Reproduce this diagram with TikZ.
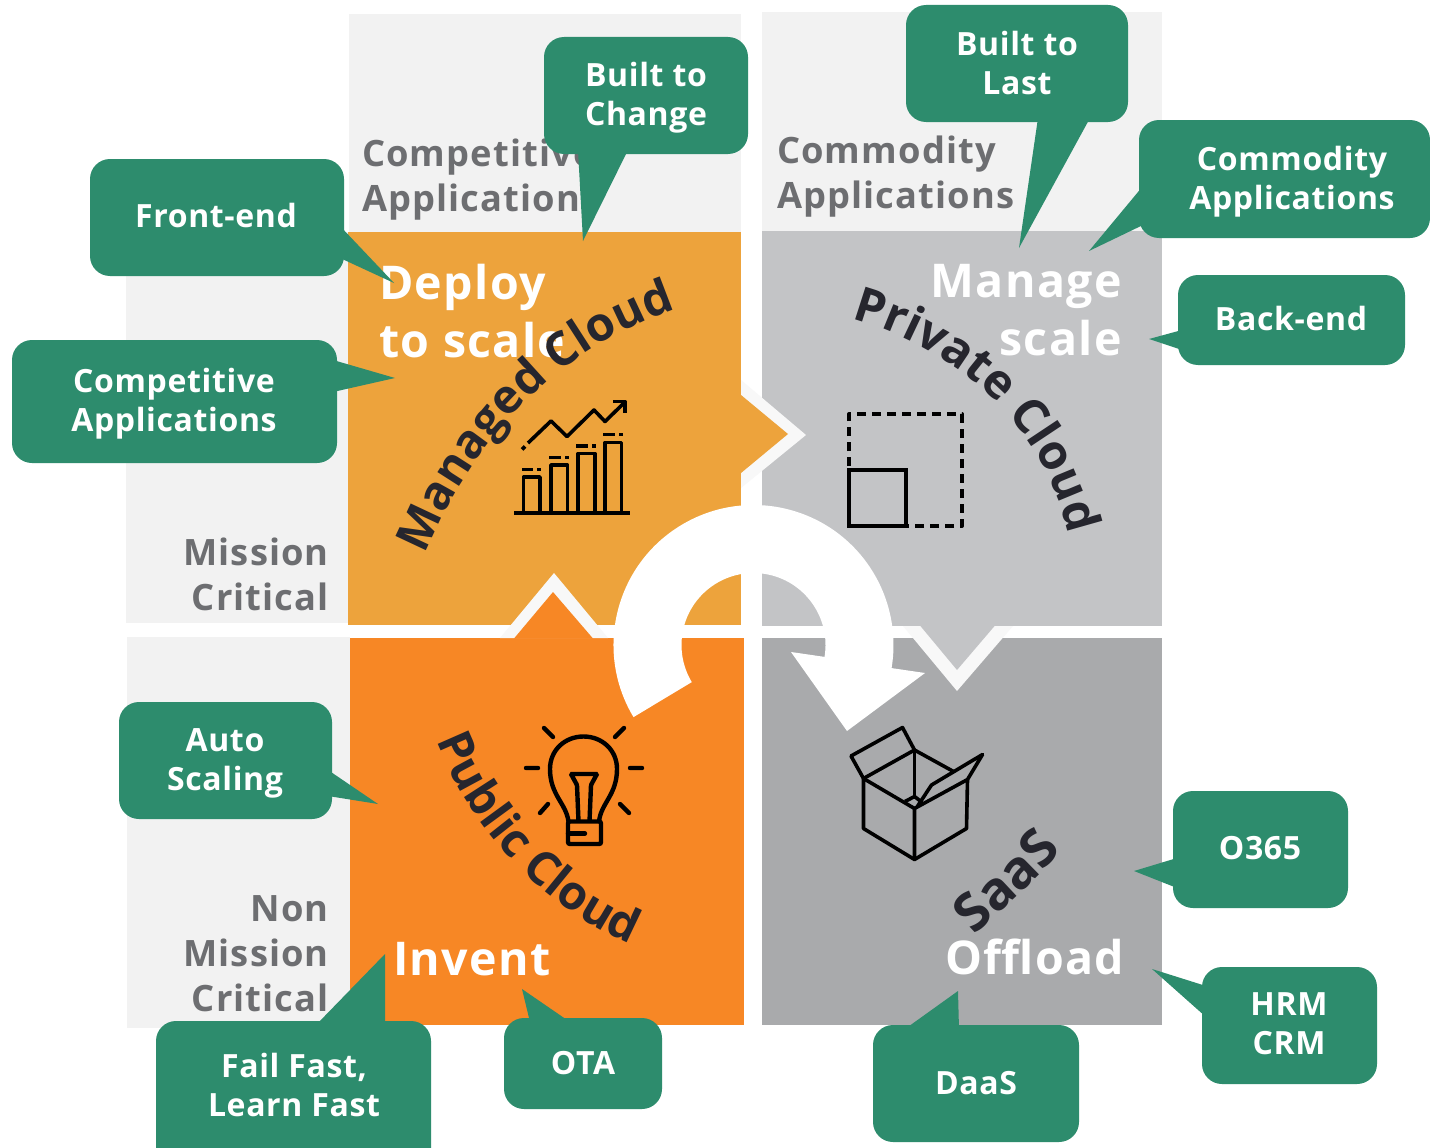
\documentclass[tikz,border=0pt]{standalone}
\usepackage{fontspec}
\setmainfont{Open Sans}
\newfontfamily\callfont[LetterSpace=2]{Open Sans Bold}
\newfontfamily\bigfont[LetterSpace=3]{Open Sans Bold}
\newfontfamily\curvefont{Open Sans Bold}
\usetikzlibrary{decorations.text}
\definecolor{cgreen}{HTML}{2D8C6D}
\definecolor{lightbg}{HTML}{F2F2F2}
\definecolor{qtl}{HTML}{EDA33C}
\definecolor{qtr}{HTML}{C3C4C6}
\definecolor{qbl}{HTML}{F78725}
\definecolor{qbr}{HTML}{A9AAAC}
\definecolor{edge}{HTML}{F8F8F8}
\definecolor{labelgray}{HTML}{6D6E71}
\definecolor{curvecol}{HTML}{26262E}
\tikzset{
  x=1pt,y=-1pt,
  callbox/.style={fill=cgreen,rounded corners=20pt},
  calltext/.style={text=white,font=\callfont\fontsize{32}{39}\selectfont,align=center,inner sep=0pt},
  greylabel/.style={text=labelgray,font=\bigfont\fontsize{36.3}{45}\selectfont,inner sep=0pt},
  bigwhite/.style={text=white,font=\bigfont\fontsize{46.5}{58}\selectfont,inner sep=0pt},
  iconline/.style={draw=black,line width=3.6pt,line join=round},
  curved/.style={decorate,decoration={text along path,text align=center,text format delimiters={|}{|},text color=curvecol}}
}
\newcommand{\callout}[7]{%
  \fill[callbox] (#1,#2) rectangle (#3,#4);
  \fill[cgreen] #5 -- #6 -- #7 -- cycle;
}
\begin{document}
\begin{tikzpicture}
\useasboundingbox (0,0) rectangle (1430,1148);
\fill[white] (0,0) rectangle (1430,1148);
% light backgrounds
\fill[lightbg] (349,14) rectangle (741,232);
\fill[lightbg] (126,232) rectangle (348,623);
\fill[lightbg] (762,12) rectangle (1162,231);
\fill[lightbg] (127,637) rectangle (350,1028);
% quadrants
\fill[qtl] (348,232) rectangle (741,625);
\fill[qtr] (762,231) rectangle (1162,626);
\fill[qbl] (350,638) rectangle (744,1025);
\fill[qbr] (762,638) rectangle (1162,1025);
% flow arrows
\fill[edge] (741,380) -- (806,435) -- (741,488) -- cycle;
\fill[qtl] (741,395) -- (788,434) -- (741,473) -- cycle;
\fill[edge] (500,638) -- (554,573) -- (608,638) -- cycle;
\fill[qbl] (514,638.5) -- (553,592) -- (593,638.5) -- cycle;
\fill[edge] (903,626) -- (957,691) -- (1013,626) -- cycle;
\fill[qtr] (920,625.5) -- (957,670) -- (995,625.5) -- cycle;
% ring arrow
\coordinate (ringc) at (753.5,645);
\fill[white] ([shift={(149:140)}]ringc) arc[start angle=149,end angle=369.5,radius=140]
  -- (925,673) -- (847,731) -- (791,652) -- ([shift={(9.5:72)}]ringc)
  arc[start angle=369.5,end angle=149,radius=72] -- cycle;
% grey labels
\node[greylabel,anchor=base west] (lblcomp) at (362,166) {Competitive};
\node[greylabel,anchor=base west] (lblcompb) at (362,211) {Applications};
\node[greylabel,anchor=base west] (lblcomm) at (777,163) {Commodity};
\node[greylabel,anchor=base west] (lblcommb) at (777,208) {Applications};
\node[greylabel,anchor=base east] (lblm1) at (329,565) {Mission};
\node[greylabel,anchor=base east] (lblm2) at (329,610) {Critical};
\node[greylabel,anchor=base east] (lbln1) at (329,921) {Non};
\node[greylabel,anchor=base east] (lbln2) at (329,966) {Mission};
\node[greylabel,anchor=base east] (lbln3) at (329,1011) {Critical};
% big titles
\node[bigwhite,anchor=base west] (tdep) at (379,299) {Deploy};
\node[bigwhite,anchor=base west] (tsca) at (379,357) {to scale};
\node[bigwhite,anchor=base east] (tman) at (1122,297) {Manage};
\node[bigwhite,anchor=base east] (tsc2) at (1122,355) {scale};
\node[bigwhite,anchor=base west] (tinv) at (393,975) {Invent};
\node[bigwhite,anchor=base west] (toff) at (945,974) {Offload};
% curved labels
\path[curved,decoration={text={|\curvefont\fontsize{47}{47}\selectfont|Managed Cloud}}]
  (420,566) .. controls (470,440) and (558,345) .. (688,305);
\path[curved,decoration={text={|\curvefont\fontsize{48}{48}\selectfont|Private Cloud}}]
  (840,316) .. controls (955,343) and (1050,428) .. (1071,546);
\path[curved,decoration={text={|\curvefont\fontsize{47}{47}\selectfont|Public Cloud}}]
  (429,720) .. controls (461,819) and (541,914) .. (651,952);
\path[curved,decoration={text={|\curvefont\fontsize{53}{53}\selectfont|SaaS}}]
  (962,949) .. controls (997,913) and (1037,882) .. (1074,836);
% chart icon
\draw[iconline] (514,513) -- (630,513);
\draw[iconline] (523.5,513) -- (523.5,477) -- (540,477) -- (540,513);
\draw[iconline] (551,513) -- (551,465) -- (567.5,465) -- (567.5,513);
\draw[iconline] (578,513) -- (578,453.5) -- (595,453.5) -- (595,513);
\draw[iconline] (605,513) -- (605,442.5) -- (621.5,442.5) -- (621.5,513);
\draw[iconline] (522,469.5) -- (533,469.5) (537,469.5) -- (541,469.5);
\draw[iconline] (549,457.5) -- (561,457.5) (565,457.5) -- (569,457.5);
\draw[iconline] (576,446) -- (588,446) (592,446) -- (596,446);
\draw[iconline] (603,434.5) -- (615,434.5) (619,434.5) -- (623,434.5);
\draw[iconline] (522,449.5) -- (525,446.5);
\draw[iconline] (528,443) -- (551,421) -- (567,436.5) -- (594,410) -- (605,421.5) -- (625,402);
\draw[iconline] (613,401.5) -- (625,401.5) -- (625,413);
% scale icon
\draw[iconline,line width=4pt,dash pattern=on 9pt off 6pt] (849,526) -- (849,414) -- (962,414) -- (962,526) -- (906,526);
\draw[draw=black,line width=4pt] (849,470) rectangle (906,526);
% bulb icon
\begin{scope}[line width=4.4pt]
\draw[draw=black,line cap=round] (544,728) -- (553,737) (624,728) -- (615,737) (526,768) -- (538,768) (630,768) -- (642,768) (540,813) -- (548,804) (629,813) -- (620,804);
\draw[draw=black,line join=round] (568.5,821.5) .. controls (566,803) and (550,795) .. (550,769) .. controls (550,750) and (565,736.5) .. (583.5,736.5) .. controls (602,736.5) and (617,750) .. (617,769) .. controls (617,795) and (601,803) .. (599,821.5);
\draw[draw=black,rounded corners=2pt] (568,821.5) -- (601,821.5) -- (601,844) -- (568,844) -- cycle;
\draw[draw=black,line cap=round] (568,833.5) -- (585,833.5);
\draw[draw=black,rounded corners=1pt] (578.5,821.5) -- (577,785) -- (571,774) -- (597,774) -- (591,785) -- (589.5,821.5);
\end{scope}
% box icon
\draw[iconline] (863.5,778.5) -- (863.5,828.5) -- (914.5,859.5) -- (966.5,828.5) -- (967.5,779.5);
\draw[iconline] (863.5,778.5) -- (914.5,808.5) -- (914.5,859.5);
\draw[iconline] (863.5,778.5) -- (914.5,750) -- (953.5,771.5);
\draw[iconline] (914.5,750) -- (914.5,796.5);
\draw[iconline] (863.5,778.5) -- (851,756) -- (902.5,727.5) -- (914.5,750);
\draw[iconline] (905,801.5) -- (914.5,796.5) -- (921,801.5);
\draw[iconline] (914.5,808.5) -- (967.5,779.5) -- (982.5,754.5) -- (931.5,785) -- (917,807);
% callouts
\callout{544}{37}{748}{154}{(578,150)}{(583,241)}{(628,150)}
\node[calltext] (c1) at (646,97.5) {Built to\\Change};
\callout{906}{5}{1128}{122}{(1038,118)}{(1019,248)}{(1090,118)}
\node[calltext] (c2) at (1017,63) {Built to\\Last};
\callout{1139}{120}{1430}{238}{(1143,186)}{(1089,251)}{(1143,225)}
\node[calltext] (c3) at (1292,181.5) {Commodity\\Applications};
\callout{90}{159}{344}{276}{(340,226)}{(394,283)}{(340,258)}
\node[calltext] (c4) at (216,215) {Front-end};
\callout{12}{340}{337}{463}{(333,360)}{(395,378)}{(333,392)}
\node[calltext] (c5) at (174,403.5) {Competitive\\Applications};
\callout{1178}{275}{1405}{365}{(1182,330)}{(1149,339)}{(1182,350)}
\node[calltext] (c6) at (1291,318) {Back-end};
\callout{119}{702}{332}{819}{(328,770)}{(378,804)}{(328,796)}
\node[calltext] (c7) at (225,763) {Auto\\Scaling};
\callout{1173}{791}{1348}{908}{(1177,858)}{(1134,871)}{(1177,888)}
\node[calltext] (c8) at (1260,848) {O365};
\callout{1202}{967}{1377}{1084}{(1206,986)}{(1152,969)}{(1206,1017)}
\node[calltext] (c9) at (1289,1024) {HRM\\CRM};
\callout{873}{1025}{1079}{1142}{(905,1029)}{(958,991)}{(959,1029)}
\node[calltext] (c10) at (976,1083) {DaaS};
\callout{504}{1018}{662}{1109}{(530,1022)}{(522,989)}{(570,1022)}
\node[calltext] (c11) at (583,1063) {OTA};
\fill[callbox] (156,1021) rectangle (431,1168);
\fill[cgreen] (316,1025) -- (385,954) -- (385,1025) -- cycle;
\node[calltext] (c12) at (294,1085) {Fail Fast,\\Learn Fast};
\end{tikzpicture}
\end{document}
